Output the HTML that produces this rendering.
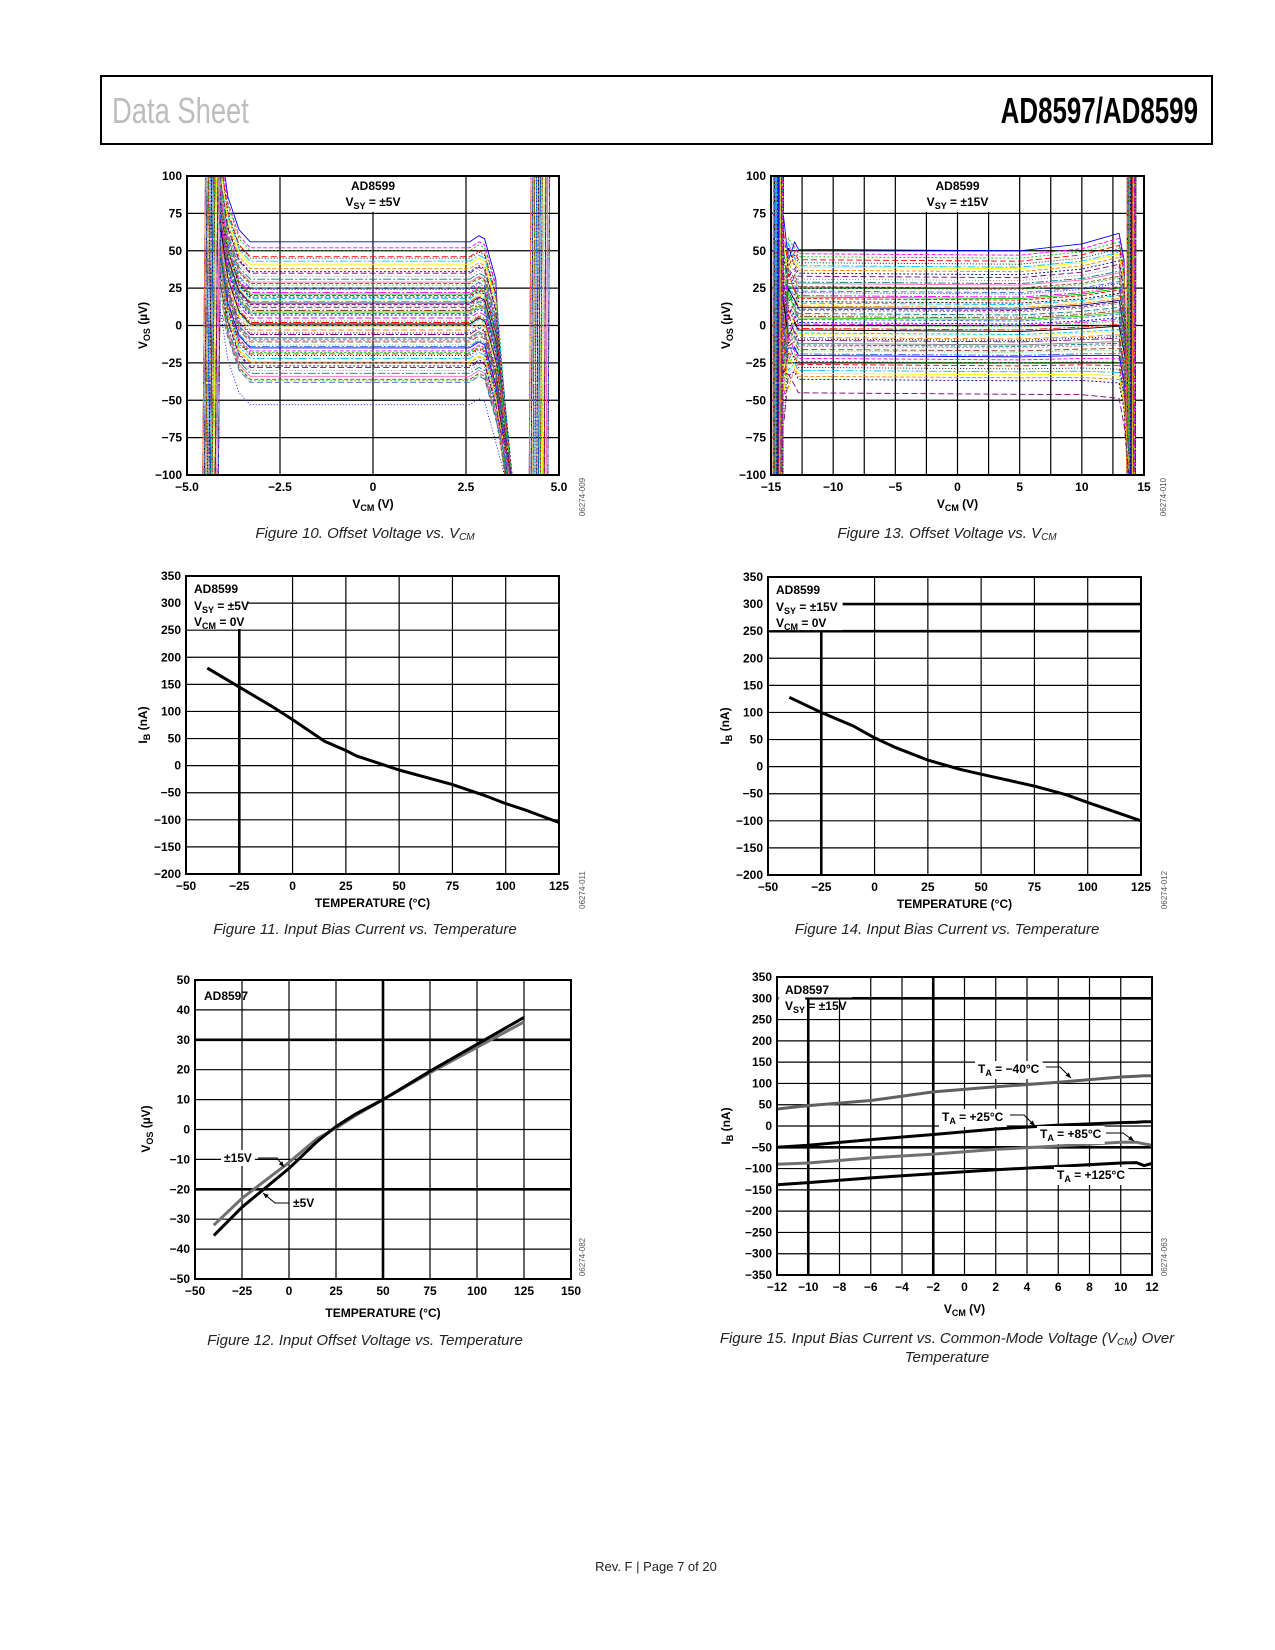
<!DOCTYPE html>
<html><head><meta charset="utf-8"><style>
html,body{margin:0;padding:0;background:#fff}
svg{display:block;font-family:"Liberation Sans",Arial,sans-serif}
.t{font-size:12px;font-weight:bold;fill:#000}
.cap{font-size:15px;font-style:italic;fill:#222}
.id{font-size:8px;fill:#555}
</style></head><body>
<svg id="pg" width="1275" height="1650" viewBox="0 0 1275 1650">
<g>
<rect x="101" y="76" width="1111" height="68" fill="none" stroke="#000" stroke-width="2"/>
<text x="112" y="123" font-size="36" fill="#bdbdbd" transform="translate(112 0) scale(0.76 1) translate(-112 0)">Data Sheet</text>
<text x="1198" y="123" font-size="36" font-weight="bold" text-anchor="end" transform="translate(1198 0) scale(0.72 1) translate(-1198 0)">AD8597/AD8599</text>
</g>
<text x="656" y="1571" font-size="13" text-anchor="middle" fill="#222">Rev. F | Page 7 of 20</text>
<g id="charts"></g>
</svg>
<script>
// ---------- data ----------
const fig10Offsets=[56,52,50,46,45,43,41,38,36,35,33,31,29,28,27,25,24,22,21,20,19,18,17,16,15,14,13,12,11,10,9,8,7,5,3,2,1,0,-1,-3,-5,-6,-8,-9,-10,-11,-13,-14,-15,-17,-18,-19,-20,-22,-24,-25,-27,-28,-30,-32,-34,-36,-37,-38,-53];
const fig13Offsets=[51,48,46,44,42,40,39,37,35,33,31,29,28,26,25,23,22,20,19,18,16,15,14,13,12,11,10,8,7,6,5,4,2,1,0,-2,-3,-5,-6,-8,-9,-10,-12,-13,-14,-16,-17,-19,-20,-22,-24,-26,-28,-30,-32,-34,-36,-45];
const fig11Temp=[-40,-25,-10,0,15,25,30,50,75,90,100,110,125];
const fig11Ib=[180,145,110,85,45,28,18,-8,-35,-55,-70,-83,-105];
const fig14Temp=[-40,-25,-10,0,10,25,40,50,75,90,100,125];
const fig14Ib=[128,100,75,53,35,12,-5,-14,-36,-52,-66,-100];
const fig12Temp=[-40,-25,0,15,25,35,50,75,100,125];
const fig12Vos5=[-35.5,-26,-13,-4,1,5,10,19.5,28.5,37.5];
const fig12Vos15=[-32,-23,-11,-3,0.5,4.5,10,19,27.5,36];
const fig15Vcm=[-12,-10,-6,-2,2,6,10,11,11.5,12];
const fig15Ib40=[40,48,60,80,92,103,115,117,118,118];
const fig15Ib25=[-50,-45,-32,-20,-7,2,8,9,10,10];
const fig15Ib85=[-90,-87,-75,-66,-55,-47,-38,-38,-42,-45];
const fig15Ib125=[-138,-133,-122,-112,-103,-95,-87,-86,-93,-88];

const NS='http://www.w3.org/2000/svg';
const root=document.getElementById('charts');
function el(tag,attrs,parent){const e=document.createElementNS(NS,tag);for(const k in attrs)e.setAttribute(k,attrs[k]);(parent||root).appendChild(e);return e;}
function mk(c){c.sx=v=>c.L+(v-c.x0)/(c.x1-c.x0)*(c.R-c.L);c.sy=v=>c.B-(v-c.y0)/(c.y1-c.y0)*(c.B-c.T);return c;}
function fmt(v){return (v<0?'\u2212'+Math.abs(v):''+v);}
function grid(c,g){
  for(let v=c.x0;v<=c.x1+1e-9;v+=c.gx){const th=(c.thickX||[]).includes(v);
    const l=el('line',{x1:c.sx(v),x2:c.sx(v),y1:c.T,y2:c.B,stroke:'#000','stroke-width':th?2.6:1.2},g);
    }
  for(let v=c.y0;v<=c.y1+1e-9;v+=c.gy){const th=(c.thickY||[]).includes(v);
    const l=el('line',{x1:c.L,x2:c.R,y1:c.sy(v),y2:c.sy(v),stroke:'#000','stroke-width':th?2.6:1.2},g);
    }
}
function frame(c,g){const r=el('rect',{x:c.L,y:c.T,width:c.R-c.L,height:c.B-c.T,fill:'none',stroke:'#000','stroke-width':2},g);
  }
function ticks(c,g){
  c.xt.forEach(v=>{const t=el('text',{x:c.sx(v),y:c.B+16,class:'t','text-anchor':'middle'},g);t.textContent=c.xf?c.xf(v):fmt(v);
    });
  c.yt.forEach(v=>{const t=el('text',{x:c.L-5,y:c.sy(v)+4,class:'t','text-anchor':'end'},g);t.textContent=fmt(v);
    });
}
function sub(parent,x,y,main,subs,rest,anchor,rot){
  const t=el('text',{x:x,y:y,class:'t','text-anchor':anchor||'start'},parent);
  if(rot)t.setAttribute('transform','rotate(-90 '+x+' '+y+')');
  t.appendChild(document.createTextNode(main));
  const s=el('tspan',{dy:3,'font-size':9},t);s.textContent=subs;
  const r=el('tspan',{dy:-3},t);r.textContent=rest;return t;}
function titles(c,g,xm,xs,xr,ym,ys,yr){
  const a=sub(g,(c.L+c.R)/2,c.xtY,xm,xs,xr,'middle');
  const b=sub(g,c.ytX,(c.T+c.B)/2,ym,ys,yr,'middle',true);
}
function caption(g,x,y,txt,s,rest){const t=el('text',{x:x,y:y,class:'cap','text-anchor':'middle'},g);t.appendChild(document.createTextNode(txt));
  if(s){const q=el('tspan',{'font-size':10,dy:2},t);q.textContent=s;const r=el('tspan',{dy:-2},t);r.textContent=rest||'';}
  }
function fid(g,x,y,txt){const t=el('text',{x:x,y:y,class:'id','text-anchor':'middle',transform:'rotate(-90 '+x+' '+y+')'},g);t.textContent=txt;
  }
function whiteBox(c,g,xa,xb,ya,yb){const r=el('rect',{x:c.sx(xa),y:c.sy(ya),width:c.sx(xb)-c.sx(xa),height:c.sy(yb)-c.sy(ya),fill:'#fff'},g);
  }
function line(c,g,xs,ys,color,w,name){const d=xs.map((x,i)=>(i?'L':'M')+c.sx(x).toFixed(1)+' '+c.sy(ys[i]).toFixed(1)).join(' ');
  const p=el('path',{d:d,fill:'none',stroke:color,'stroke-width':w,'stroke-linejoin':'round'},g);
  return p;}
function clip(c,id){const d=el('defs',{});const cp=el('clipPath',{id:id},d);el('rect',{x:c.L,y:c.T,width:c.R-c.L,height:c.B-c.T},cp);}
function label(g,x,y,main,subs,rest,pts,anchor){
  const t=sub(g,x,y,main,subs,rest,anchor);
  const bb=t.getBBox();const r=el('rect',{x:bb.x-3,y:bb.y-1,width:bb.width+6,height:bb.height+2,fill:'#fff'});g.insertBefore(r,t);
  
  
  if(pts){const p=el('polyline',{points:pts,fill:'none',stroke:'#000','stroke-width':1},g);
    const a=pts.trim().split(' ');const e=a[a.length-1].split(',').map(Number),s=a[a.length-2].split(',').map(Number);
    const ang=Math.atan2(e[1]-s[1],e[0]-s[0]);const L=6;
    const h=el('polygon',{points:`${e[0]},${e[1]} ${e[0]-L*Math.cos(ang-0.4)},${e[1]-L*Math.sin(ang-0.4)} ${e[0]-L*Math.cos(ang+0.4)},${e[1]-L*Math.sin(ang+0.4)}`,fill:'#000'},g);
    }
}
const palette=['#0000ff','#ff00ff','#00c000','#ff0000','#000000','#00c0ff','#ffff00','#ff8000','#000080','#800080','#808080','#008080','#ff69b4','#8b4513','#32cd32','#4169e1'];
const dashes=['none','4 2','2 2','6 3','1 2','8 2 2 2'];

// ---------- Figure 10 ----------
(function(){const c=mk({L:187,R:559,T:176,B:475,x0:-5,x1:5,y0:-100,y1:100,gx:2.5,gy:25,xt:[-5,-2.5,0,2.5,5],yt:[-100,-75,-50,-25,0,25,50,75,100],xtY:508,ytX:147});
  c.xf=v=>v===0?'0':(v<0?'\u2212':'')+Math.abs(v).toFixed(1);
  const g=el('g',{});
  clip(c,'clip10');grid(c,g);
  const s=el('g',{'clip-path':'url(#clip10)'},g);
  fig10Offsets.forEach((o,i)=>{const j=((i*37)%11)/10;const col=palette[i%palette.length];const w=0.9;
    const p1=line(c,s,[-4.58+0.42*j,-4.5+0.42*j],[-110,110],col,w,'vos-curve-left-rail');
    const p=line(c,s,[-4.15+0.1*j,-3.9,-3.6,-3.3,2.6,2.85,3.0,3.3,3.58+0.2*j],[o+75*(1-0.4*j),o+30,o+8,o,o,o+4,o+2,o-25,-110],col,w,'vos-curve');
    const p2=line(c,s,[4.2+0.5*j,4.25+0.5*j],[-110,110],col,w,'vos-curve-right-rail');
    [p,p1,p2].forEach(q=>{const d=dashes[i%dashes.length];if(d!=='none')q.setAttribute('stroke-dasharray',d);});});
  whiteBox(c,g,-2.42,2.42,99.3,76);frame(c,g);ticks(c,g);
  const a=el('text',{x:c.sx(0),y:190,class:'t','text-anchor':'middle'},g);a.textContent='AD8599';
  const b=sub(g,c.sx(0),206,'V','SY',' = ±5V','middle');
  titles(c,g,'V','CM',' (V)','V','OS',' (µV)');
  caption(g,365,538,'Figure 10. Offset Voltage vs. V','CM');fid(g,585,497,'06274-009');root.appendChild(g);})();

// ---------- Figure 13 ----------
(function(){const c=mk({L:771,R:1144,T:176,B:475,x0:-15,x1:15,y0:-100,y1:100,gx:2.5,gy:25,xt:[-15,-10,-5,0,5,10,15],yt:[-100,-75,-50,-25,0,25,50,75,100],xtY:508,ytX:730});
  const g=el('g',{});
  clip(c,'clip13');grid(c,g);
  const s=el('g',{'clip-path':'url(#clip13)'},g);
  fig13Offsets.forEach((o,i)=>{const j=((i*37)%11)/10;const col=palette[i%palette.length];const w=0.9;
    const p1=line(c,s,[-14.85+0.8*j,-14.8+0.8*j],[-110,110],col,w,'vos-curve-left-rail');
    const p=line(c,s,[-14.1+0.2*j,-13.6,-13.1,-12.8,5,10,13,13.4,13.7+0.3*j],[o+60*(0.5-j),o+25*(j-0.3),o+5,o,o-1,o*1.05+1,o*1.15+3,o*1.15-15,-110],col,w,'vos-curve');
    const p2=line(c,s,[13.6+0.7*j,13.65+0.7*j],[-110,110],col,w,'vos-curve-right-rail');
    [p,p1,p2].forEach(q=>{const d=dashes[i%dashes.length];if(d!=='none')q.setAttribute('stroke-dasharray',d);});});
  whiteBox(c,g,-4.9,4.9,99.3,76);frame(c,g);ticks(c,g);
  const a=el('text',{x:c.sx(0),y:190,class:'t','text-anchor':'middle'},g);a.textContent='AD8599';
  const b=sub(g,c.sx(0),206,'V','SY',' = ±15V','middle');
  titles(c,g,'V','CM',' (V)','V','OS',' (µV)');
  caption(g,947,538,'Figure 13. Offset Voltage vs. V','CM');fid(g,1166,497,'06274-010');root.appendChild(g);})();

// ---------- Figure 11 & 14 ----------
function ibTemp(L,R,T,B,tx,ib,sup,cx,idx,idtxt,name,thickY,boxX){
  const c=mk({L:L,R:R,T:T,B:B,x0:-50,x1:125,y0:-200,y1:350,gx:25,gy:50,xt:[-50,-25,0,25,50,75,100,125],yt:[-200,-150,-100,-50,0,50,100,150,200,250,300,350],thickX:[-25],thickY:thickY});
  const g=el('g',{});
  grid(c,g);whiteBox(c,g,-49.6,boxX,349,252);
  line(c,g,tx,ib,'#000',3,'ib-curve');frame(c,g);ticks(c,g);
  const a=el('text',{x:L+8,y:T+17,class:'t'},g);a.textContent='AD8599';
  const b=sub(g,L+8,T+34,'V','SY',' = '+sup);
  const d=sub(g,L+8,T+50,'V','CM',' = 0V');
  const x=el('text',{x:(L+R)/2,y:B+33,class:'t','text-anchor':'middle'},g);x.textContent='TEMPERATURE (°C)';
  const y=sub(g,L-39,(T+B)/2,'I','B',' (nA)','middle',true);
  caption(g,cx,934,'Figure '+idx+'. Input Bias Current vs. Temperature');fid(g,R+26,890,idtxt);root.appendChild(g);}
ibTemp(186,559,576,874,fig11Temp,fig11Ib,'±5V',365,11,'06274-011','figure-11-input-bias-current-vs-temperature-5v',[],-21);
ibTemp(768,1141,577,875,fig14Temp,fig14Ib,'±15V',947,14,'06274-012','figure-14-input-bias-current-vs-temperature-15v',[250,300],-15);

// ---------- Figure 12 ----------
(function(){const c=mk({L:195,R:571,T:980,B:1279,x0:-50,x1:150,y0:-50,y1:50,gx:25,gy:10,xt:[-50,-25,0,25,50,75,100,125,150],yt:[-50,-40,-30,-20,-10,0,10,20,30,40,50],thickX:[50],thickY:[30,-20]});
  const g=el('g',{});
  grid(c,g);
  line(c,g,fig12Temp,fig12Vos15,'#707070',3,'vos-15v-curve');
  line(c,g,fig12Temp,fig12Vos5,'#000',3,'vos-5v-curve');
  frame(c,g);ticks(c,g);
  const a=el('text',{x:204,y:1000,class:'t'},g);a.textContent='AD8597';
  label(g,224,1162,'±15V','','',' 258,1158 277,1158 284,1167');
  label(g,293,1207,'±5V','','',' 289,1203 275,1203 263,1193');
  const x=el('text',{x:(c.L+c.R)/2,y:1317,class:'t','text-anchor':'middle'},g);x.textContent='TEMPERATURE (°C)';
  const y=sub(g,150,1129,'V','OS',' (µV)','middle',true);
  caption(g,365,1345,'Figure 12. Input Offset Voltage vs. Temperature');fid(g,585,1257,'06274-082');root.appendChild(g);})();

// ---------- Figure 15 ----------
(function(){const c=mk({L:777,R:1152,T:977,B:1275,x0:-12,x1:12,y0:-350,y1:350,gx:2,gy:50,xt:[-12,-10,-8,-6,-4,-2,0,2,4,6,8,10,12],yt:[-350,-300,-250,-200,-150,-100,-50,0,50,100,150,200,250,300,350],thickX:[-10,-2],thickY:[300,-50]});
  const g=el('g',{});
  grid(c,g);whiteBox(c,g,-11.9,-7.2,349,302);whiteBox(c,g,-11.9,-10.2,302,266);
  line(c,g,fig15Vcm,fig15Ib40,'#606060',3,'ib-minus40c-curve');
  line(c,g,fig15Vcm,fig15Ib25,'#000',3,'ib-25c-curve');
  line(c,g,fig15Vcm,fig15Ib85,'#707070',3,'ib-85c-curve');
  line(c,g,fig15Vcm,fig15Ib125,'#000',3,'ib-125c-curve');
  frame(c,g);ticks(c,g);
  const a=el('text',{x:785,y:994,class:'t'},g);a.textContent='AD8597';
  const b=sub(g,785,1010,'V','SY',' = ±15V');
  label(g,978,1073,'T','A',' = \u221240°C',' 1046,1067 1060,1067 1071,1078');
  label(g,942,1121,'T','A',' = +25°C',' 1010,1115 1024,1115 1035,1126');
  label(g,1040,1138,'T','A',' = +85°C',' 1106,1133 1123,1133 1134,1141');
  label(g,1057,1179,'T','A',' = +125°C',null);
  titles(mk({L:777,R:1152,T:977,B:1275,x0:-12,x1:12,y0:0,y1:1,xtY:1313,ytX:730}),g,'V','CM',' (V)','I','B',' (nA)');
  caption(g,947,1343,'Figure 15. Input Bias Current vs. Common-Mode Voltage (V','CM',') Over');
  const t2=el('text',{x:947,y:1362,class:'cap','text-anchor':'middle'},g);t2.textContent='Temperature';
  fid(g,1167,1257,'06274-063');root.appendChild(g);})();
</script>
</body></html>
